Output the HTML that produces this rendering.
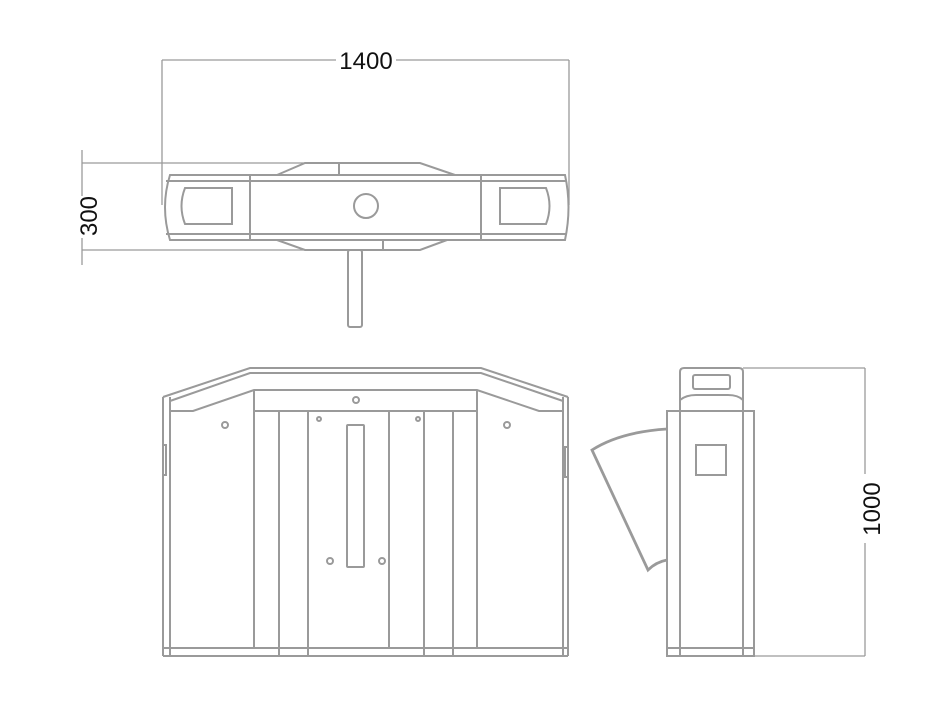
<!DOCTYPE html>
<html><head><style>html,body{margin:0;background:#fff}svg{display:block}</style></head>
<body>
<svg width="947" height="716" viewBox="0 0 947 716" xmlns="http://www.w3.org/2000/svg">
<g fill="none" stroke="#9a9a9a" stroke-width="2">
<line x1="162" y1="60" x2="336" y2="60" stroke-width="1.3"/>
<line x1="396" y1="60" x2="569" y2="60" stroke-width="1.3"/>
<line x1="162" y1="60" x2="162" y2="205" stroke-width="1.3"/>
<line x1="569" y1="60" x2="569" y2="205" stroke-width="1.3"/>
<line x1="82" y1="150" x2="82" y2="196" stroke-width="1.3"/>
<line x1="82" y1="238" x2="82" y2="265" stroke-width="1.3"/>
<line x1="82" y1="163" x2="305" y2="163" stroke-width="1.3"/>
<line x1="82" y1="250" x2="305" y2="250" stroke-width="1.3"/>
<path d="M277 175 L305 163 L420 163 L455 175"/>
<line x1="339" y1="163" x2="339" y2="175"/>
<path d="M277 240 L305 250 L420 250 L447 240"/>
<line x1="383" y1="240" x2="383" y2="250"/>
<path d="M170 175 L565 175 Q572 207 565 240 L170 240 Q160 207 170 175 Z"/>
<line x1="166" y1="181" x2="567" y2="181"/>
<line x1="166" y1="234" x2="567" y2="234"/>
<line x1="250" y1="175" x2="250" y2="240"/>
<line x1="481" y1="175" x2="481" y2="240"/>
<path d="M185 188 L232 188 L232 224 L185 224 Q178 206 185 188 Z"/>
<path d="M500 188 L546 188 Q553 206 546 224 L500 224 Z"/>
<circle cx="366" cy="206" r="12"/>
<rect x="348" y="250" width="14" height="77" rx="2"/>
<path d="M163 397 L250 368 L481 368 L568 397"/>
<path d="M170 401 L250 373 L481 373 L563 401"/>
<path d="M170 411 L193 411 L254 390 L477 390 L539 411 L563 411"/>
<line x1="254" y1="411" x2="477" y2="411"/>
<line x1="163" y1="397" x2="163" y2="656"/>
<line x1="170" y1="397" x2="170" y2="656"/>
<line x1="563" y1="397" x2="563" y2="656"/>
<line x1="568" y1="397" x2="568" y2="656"/>
<line x1="254" y1="390" x2="254" y2="648"/>
<line x1="279" y1="411" x2="279" y2="656"/>
<line x1="308" y1="411" x2="308" y2="656"/>
<line x1="389" y1="411" x2="389" y2="648"/>
<line x1="424" y1="411" x2="424" y2="656"/>
<line x1="453" y1="411" x2="453" y2="656"/>
<line x1="477" y1="390" x2="477" y2="648"/>
<line x1="163" y1="648" x2="568" y2="648"/>
<line x1="163" y1="656" x2="568" y2="656"/>
<rect x="163" y="445" width="3" height="30"/>
<rect x="565" y="447" width="3" height="30"/>
<rect x="347" y="425" width="17" height="142" rx="1"/>
<circle cx="225" cy="425" r="3"/><circle cx="356" cy="400" r="3"/>
<circle cx="319" cy="419" r="2"/><circle cx="418" cy="419" r="2"/>
<circle cx="330" cy="561" r="3"/><circle cx="382" cy="561" r="3"/>
<circle cx="507" cy="425" r="3"/>
<path d="M680 411 L680 372 Q680 368 684 368 L739 368 Q743 368 743 372 L743 411"/>
<path d="M680 400 Q686 395 696 395 L728 395 Q738 395 743 400"/>
<rect x="693" y="375" width="37" height="14" rx="2"/>
<rect x="667" y="411" width="87" height="245"/>
<line x1="680" y1="411" x2="680" y2="656"/>
<line x1="743" y1="411" x2="743" y2="656"/>
<line x1="667" y1="648" x2="754" y2="648"/>
<rect x="696" y="445" width="30" height="30"/>
<path d="M667 429 Q620 432 592 450 L648 570 Q656 562 667 560" stroke-width="2.8"/>
<line x1="743" y1="368" x2="865" y2="368" stroke-width="1.3"/>
<line x1="754" y1="656" x2="865" y2="656" stroke-width="1.3"/>
<line x1="865" y1="368" x2="865" y2="474" stroke-width="1.3"/>
<line x1="865" y1="543" x2="865" y2="656" stroke-width="1.3"/>
</g>
<g fill="#111" font-family="Liberation Sans, sans-serif" font-size="24">
<text x="366" y="69" text-anchor="middle">1400</text>
<text transform="translate(97,216) rotate(-90)" text-anchor="middle">300</text>
<text transform="translate(880,509) rotate(-90)" text-anchor="middle">1000</text>
</g>
</svg>
</body></html>
